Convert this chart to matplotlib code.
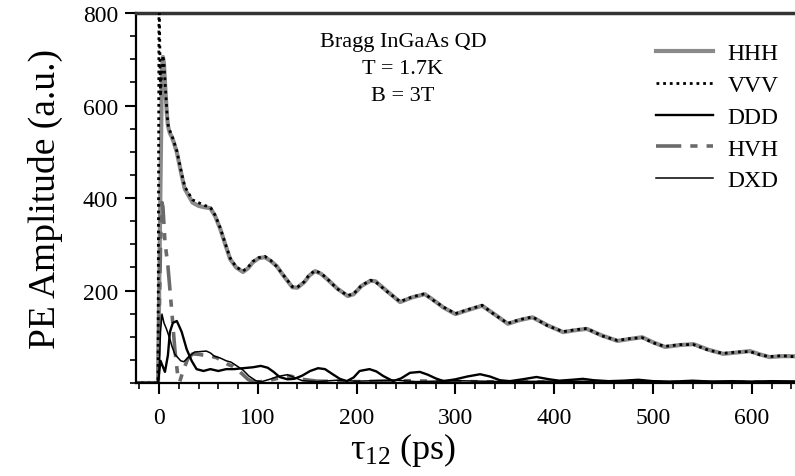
import matplotlib
matplotlib.use("Agg")
import matplotlib.pyplot as plt
from matplotlib.ticker import MultipleLocator

plt.rcParams['font.family'] = ['Liberation Serif', 'DejaVu Serif']
plt.rcParams['mathtext.fontset'] = 'custom'
plt.rcParams['mathtext.rm'] = 'Liberation Serif'
plt.rcParams['mathtext.it'] = 'Liberation Serif'

# ---- data ----
hhh_t = [-25, -1, 1, 3, 4, 5, 6, 8, 9, 11, 13, 15, 18, 23, 26, 30, 34, 40, 46, 52, 57, 62, 67, 72, 78,
         85, 90, 95, 101, 107, 113, 119, 126, 135, 140, 147, 152, 158, 164, 170, 180, 191, 197, 205,
         214, 219, 230, 244, 256, 269, 276, 288, 300, 313, 327, 340, 353, 365, 378, 393, 409, 421,
         433, 448, 464, 476, 489, 500, 512, 527, 541, 556, 571, 585, 598, 608, 618, 630, 642, 650]
hhh_a = [0, 0, 350, 680, 705, 690, 650, 580, 556, 540, 532, 520, 499, 448, 420, 405, 390, 383, 380, 378,
         360, 333, 300, 268, 250, 240, 248, 261, 270, 272, 264, 253, 232, 207, 206, 218, 232, 242, 236,
         225, 205, 188, 192, 210, 221, 220, 200, 175, 185, 192, 182, 163, 149, 158, 167, 148, 128, 136,
         142, 125, 110, 114, 117, 103, 91, 95, 99, 88, 78, 82, 84, 72, 63, 66, 69, 62, 56, 58, 58, 56]

vvv_t = [-25, -1, 0, 1.5, 3, 4, 5, 6, 8, 9, 11, 13, 15, 18, 23, 26, 30, 34, 40, 46, 52, 57, 62, 67, 72,
         78, 85, 90, 95, 101, 107, 113, 119, 126, 135, 140, 147, 152, 158, 164, 170, 180, 191, 197,
         205, 214, 219, 230, 244, 256, 269, 276, 288, 300, 313, 327, 340, 353, 365, 378, 393, 409,
         421, 433, 448, 464, 476, 489, 500, 512, 527, 541, 556, 571, 585, 598, 608, 618, 630, 642, 650]
vvv_a = [0, 0, 850, 620, 690, 708, 692, 655, 585, 560, 545, 535, 522, 502, 452, 425, 410, 396, 390, 384,
         380, 362, 335, 302, 270, 251, 242, 250, 263, 271, 274, 265, 252, 233, 208, 207, 219, 234, 243,
         237, 226, 204, 189, 193, 211, 222, 219, 199, 176, 186, 193, 181, 164, 150, 159, 168, 147, 129,
         137, 143, 124, 111, 115, 118, 102, 92, 96, 98, 87, 79, 83, 83, 71, 64, 67, 68, 61, 57, 59, 57, 55]

ddd_t = [-25, -1, 0.5, 1.5, 3, 6, 9, 11, 14, 18, 21, 23, 28, 33, 38, 45, 52, 60, 68, 76, 85, 95, 103,
         110, 116, 122, 130, 137, 145, 153, 161, 168, 175, 183, 190, 197, 203, 213, 220, 227, 237, 245,
         254, 264, 272, 280, 288, 300, 312, 325, 335, 345, 355, 368, 382, 395, 405, 418, 429, 440, 455,
         470, 485, 500, 520, 540, 560, 580, 600, 620, 650]
ddd_a = [0, 0, 30, 48, 40, 24, 60, 110, 130, 134, 120, 110, 73, 48, 30, 26, 30, 26, 30, 30, 32, 34, 37,
         33, 24, 13, 8, 9, 16, 26, 32, 30, 20, 9, 4, 12, 26, 30, 25, 15, 4, 10, 22, 24, 18, 10, 4, 8, 14,
         19, 14, 6, 4, 8, 13, 8, 5, 7, 9, 6, 4, 5, 7, 4, 3, 5, 3, 4, 3, 4, 3]

hvh_t = [-25, -1, 0.5, 2, 3, 4, 6, 9, 13, 16, 19, 21, 24, 29, 34, 40, 46, 52, 58, 64, 70, 75, 80, 85,
         90, 95, 100, 110, 120, 133, 145, 160, 200, 250, 300, 400, 500, 650]
hvh_a = [0, 0, 180, 350, 390, 380, 305, 253, 153, 73, 15, 3, 24, 52, 63, 62, 60, 58, 55, 48, 40, 36,
         28, 18, 8, 3, 2, 5, 10, 15, 8, 4, 3, 5, 3, 2, 2, 2]

dxd_t = [-25, -1, 0, 1.5, 3, 5, 7.5, 11, 13, 16, 19, 22, 25, 28, 32, 36, 42, 48, 52, 56, 62, 68, 73,
         78, 85, 91, 98, 104, 112, 120, 130, 137, 145, 160, 180, 200, 240, 260, 300, 350, 400, 450,
         500, 550, 600, 650]
dxd_a = [0, 0, 20, 110, 149, 130, 117, 95, 80, 62, 55, 48, 46, 52, 60, 67, 68, 69, 65, 58, 54, 48, 45,
         38, 28, 15, 5, 3, 8, 14, 18, 12, 5, 3, 6, 4, 6, 3, 5, 3, 4, 2, 3, 2, 3, 2]

labels = ["HHH", "VVV", "DDD", "HVH", "DXD"]
x_ticks = [0, 100, 200, 300, 400, 500, 600]
y_ticks = [200, 400, 600, 800]

# ---- figure ----
fig = plt.figure(figsize=(7.95, 4.77), dpi=100)
ax = fig.add_axes([136 / 795, 93 / 477, 659 / 795, 370 / 477])

ax.plot(hhh_t, hhh_a, color='#8a8a8a', lw=3.0, label=labels[0], zorder=2)
ax.plot(vvv_t, vvv_a, color='black', lw=2.0, linestyle=(0, (1.0, 1.4)), label=labels[1], zorder=3)
ax.plot(ddd_t, ddd_a, color='black', lw=1.7, label=labels[2], zorder=4)
ax.plot(hvh_t, hvh_a, color='#6a6a6a', lw=2.6, linestyle=(0, (7, 2.5, 2, 2.5, 2, 2.5)),
        label=labels[3], zorder=2)
ax.plot(dxd_t, dxd_a, color='black', lw=1.1, label=labels[4], zorder=4)

ax.set_xlim(-23.3, 643.7)
ax.set_ylim(0, 800)
ax.set_xticks(x_ticks)
ax.set_yticks(y_ticks)
ax.xaxis.set_minor_locator(MultipleLocator(20))
ax.yaxis.set_minor_locator(MultipleLocator(50))
ax.tick_params(which='major', direction='out', length=8, width=1.5, labelsize=17, pad=5)
ax.tick_params(which='minor', direction='out', length=4, width=1.2)
ax.tick_params(axis='x', pad=9)

for s in ['left', 'bottom']:
    ax.spines[s].set_linewidth(1.6)
ax.spines['top'].set_linewidth(2.5)
ax.spines['top'].set_color('#333333')
ax.spines['right'].set_visible(False)

ax.set_ylabel("PE Amplitude (a.u.)", fontsize=27)
ax.yaxis.set_label_coords(-0.111, 0.5)
ax.set_xlabel(r"$\tau_{12}$ (ps)", fontsize=26)
ax.xaxis.set_label_coords(0.405, -0.128)

ax.text(0.405, 0.924, "Bragg InGaAs QD", transform=ax.transAxes, ha='center', va='center', fontsize=16)
ax.text(0.405, 0.849, "T = 1.7K", transform=ax.transAxes, ha='center', va='center', fontsize=16)
ax.text(0.405, 0.776, "B = 3T", transform=ax.transAxes, ha='center', va='center', fontsize=16)

leg = ax.legend(loc='upper left', bbox_to_anchor=(0.789, 0.919), frameon=False, fontsize=17,
                handlelength=2.42, handletextpad=0.6, labelspacing=0.43, borderpad=0, borderaxespad=0)

fig.savefig("out.png", dpi=100)
